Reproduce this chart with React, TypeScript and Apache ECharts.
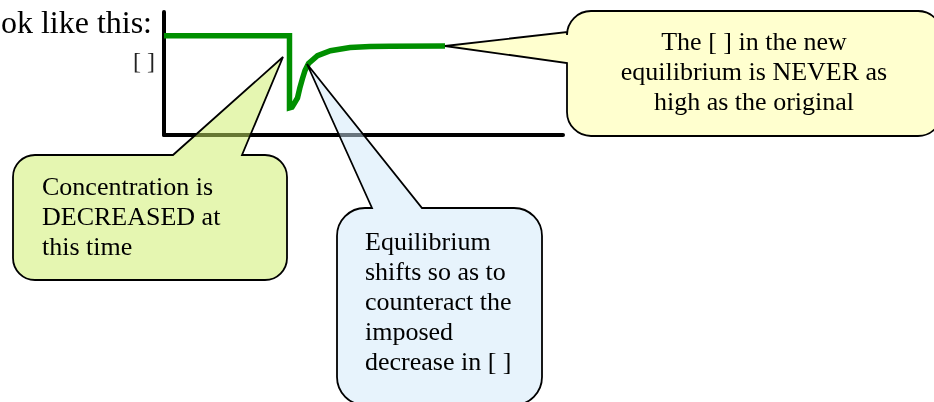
import { useEffect, useRef } from "react";
import * as echarts from "echarts";

// ---- data ----
const timeValues = [0, 31.45, 31.45, 32.08, 32.71, 33.46, 34.04, 34.69, 35.34, 36.22, 38.47, 41.73, 46.62, 51.63, 56.64, 70.43];
const concValues = [80.65, 80.65, 22.0, 22.6, 26.0, 30.1, 38.2, 45.7, 52.4, 58.1, 64.5, 68.5, 71.1, 71.9, 72.1, 72.4];
const yAxisLabel = "[ ]";
const headerText = "ok like this:";
const noteDecreased = ["Concentration is", "DECREASED at", "this time"];
const noteShift = ["Equilibrium", "shifts so as to", "counteract the", "imposed", "decrease in [ ]"];
const noteNever = ["The [ ] in the new", "equilibrium is NEVER as", "high as the original"];

const SERIF = '"Liberation Serif", "Times New Roman", serif';
const KAPPA = 0.5523;

type Tail = { side: "top" | "left"; a: number; b: number; tx: number; ty: number };

function calloutPath(x1: number, y1: number, x2: number, y2: number, r: number, tail: Tail): string {
  const k = r * KAPPA;
  const p: string[] = [];
  p.push(`M ${x1 + r} ${y1}`);
  if (tail.side === "top") {
    p.push(`L ${tail.a} ${y1} L ${tail.tx} ${tail.ty} L ${tail.b} ${y1}`);
  }
  p.push(`L ${x2 - r} ${y1}`);
  p.push(`C ${x2 - r + k} ${y1} ${x2} ${y1 + r - k} ${x2} ${y1 + r}`);
  p.push(`L ${x2} ${y2 - r}`);
  p.push(`C ${x2} ${y2 - r + k} ${x2 - r + k} ${y2} ${x2 - r} ${y2}`);
  p.push(`L ${x1 + r} ${y2}`);
  p.push(`C ${x1 + r - k} ${y2} ${x1} ${y2 - r + k} ${x1} ${y2 - r}`);
  if (tail.side === "left") {
    p.push(`L ${x1} ${tail.b} L ${tail.tx} ${tail.ty} L ${x1} ${tail.a}`);
  }
  p.push(`L ${x1} ${y1 + r}`);
  p.push(`C ${x1} ${y1 + r - k} ${x1 + r - k} ${y1} ${x1 + r} ${y1}`);
  p.push("Z");
  return p.join(" ");
}

let registered = false;
function registerShapes() {
  if (registered) return;
  registered = true;
  echarts.graphic.registerShape(
    "calloutGreen",
    echarts.graphic.extendPath(calloutPath(13, 155, 287, 280, 22, { side: "top", a: 173, b: 242, tx: 283, ty: 57 }), {})
  );
  echarts.graphic.registerShape(
    "calloutBlue",
    echarts.graphic.extendPath(calloutPath(337, 208, 542, 405, 28, { side: "top", a: 372, b: 422, tx: 307, ty: 64 }), {})
  );
  echarts.graphic.registerShape(
    "calloutYellow",
    echarts.graphic.extendPath(calloutPath(567, 11, 942, 136, 24, { side: "left", a: 32, b: 63, tx: 445, ty: 46 }), {})
  );
}

function lines(texts: string[], x: number, firstBaseline: number, step: number, align: "left" | "center", size: number) {
  return texts.map((t, i) => ({
    type: "text",
    z: 110,
    silent: true,
    style: {
      text: t,
      x,
      y: firstBaseline + i * step - size * 0.32,
      font: `${size}px ${SERIF}`,
      fill: "#000",
      textAlign: align,
      textVerticalAlign: "middle",
    },
  }));
}

export default function App() {
  const ref = useRef<HTMLDivElement>(null);
  useEffect(() => {
    if (!ref.current) return;
    registerShapes();
    const chart = echarts.init(ref.current, undefined, { renderer: "svg" });
    const outline = { stroke: "#000", lineWidth: 1.8 };
    chart.setOption({
      animation: false,
      grid: { left: 164, top: 12, width: 399, height: 123, containLabel: false },
      xAxis: {
        type: "value",
        min: 0,
        max: 100,
        axisLine: { show: true, onZero: false, lineStyle: { color: "#000", width: 4 } },
        axisTick: { show: false },
        axisLabel: { show: false },
        splitLine: { show: false },
      },
      yAxis: {
        type: "value",
        min: 0,
        max: 100,
        axisLine: { show: true, onZero: false, lineStyle: { color: "#000", width: 4 } },
        axisTick: { show: false },
        axisLabel: { show: false },
        splitLine: { show: false },
      },
      series: [
        {
          type: "line",
          data: timeValues.map((t, i) => [t, concValues[i]]),
          symbol: "none",
          silent: true,
          lineStyle: { color: "#008f00", width: 5.5, cap: "butt", join: "miter", miterLimit: 2 },
        },
      ],
      graphic: [
        {
          type: "text",
          z: 110,
          silent: true,
          style: {
            text: headerText,
            x: 152,
            y: 32 - 32 * 0.32,
            font: `32px ${SERIF}`,
            fill: "#000",
            textAlign: "right",
            textVerticalAlign: "middle",
          },
        },
        {
          type: "text",
          z: 110,
          silent: true,
          style: {
            text: yAxisLabel,
            x: 144,
            y: 61,
            font: `24px ${SERIF}`,
            fill: "#222",
            textAlign: "center",
            textVerticalAlign: "middle",
          },
        },
        { type: "calloutGreen", z: 100, silent: true, style: { fill: "rgba(204,238,100,0.5)", ...outline } },
        { type: "calloutBlue", z: 100, silent: true, style: { fill: "rgba(208,232,250,0.5)", ...outline } },
        { type: "calloutYellow", z: 100, silent: true, style: { fill: "#FFFFCF", ...outline } },
        ...lines(noteDecreased, 42, 195, 30, "left", 26),
        ...lines(noteShift, 365, 250, 30, "left", 26),
        ...lines(noteNever, 754, 50, 30, "center", 26),
      ],
    });
    return () => chart.dispose();
  }, []);
  return <div ref={ref} style={{ position: "fixed", left: 0, top: 0, width: 934, height: 402 }} />;
}
